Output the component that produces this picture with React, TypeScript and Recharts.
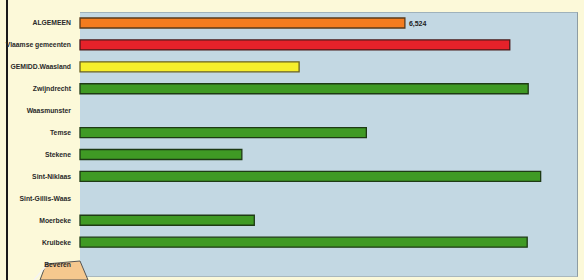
import { BarChart, Bar, XAxis, YAxis, Cell, LabelList } from 'recharts';

// categories, top to bottom
const CATEGORIES = [
  'ALGEMEEN',
  'Vlaamse gemeenten',
  'GEMIDD.Waasland',
  'Zwijndrecht',
  'Waasmunster',
  'Temse',
  'Stekene',
  'Sint-Niklaas',
  'Sint-Gillis-Waas',
  'Moerbeke',
  'Kruibeke',
  'Beveren',
];

// null = no bar drawn
const VALUES: (number | null)[] = [6.524, 8.63, 4.4, 9.0, null, 5.75, 3.25, 9.25, null, 3.5, 8.98, null];

const FILLS = [
  '#f47c1e', '#e5222a', '#f6ee2c',
  '#3f9a24', '#3f9a24', '#3f9a24', '#3f9a24', '#3f9a24',
  '#3f9a24', '#3f9a24', '#3f9a24', '#3f9a24',
];
const STROKES = [
  '#5a3a1a', '#4a1a1a', '#6a6020',
  '#1e3a14', '#1e3a14', '#1e3a14', '#1e3a14', '#1e3a14',
  '#1e3a14', '#1e3a14', '#1e3a14', '#1e3a14',
];

const data = CATEGORIES.map((c, i) => ({ name: c, value: VALUES[i] }));

const FONT = 'Liberation Sans, Arial, sans-serif';

// plain one-line tick, no wrapping
function Tick(props: any) {
  const { x, y, payload } = props;
  return (
    <text x={x} y={y + 2.5} textAnchor="end" fontSize={6.8} fontWeight={700} fill="#2a2a2a" fontFamily={FONT}>
      {payload.value}
    </text>
  );
}

export default function App() {
  return (
    <div style={{ position: 'fixed', left: 0, top: 0, width: 584, height: 280, background: '#fcf9d9', overflow: 'hidden' }}>
      {/* left frame line */}
      <div style={{ position: 'absolute', left: 6, top: 0, width: 2, height: 280, background: '#1a1a1a' }} />
      {/* plot background */}
      <div style={{ position: 'absolute', left: 80, top: 12, width: 497, height: 263, background: '#c3d8e3', borderTop: '1px solid #9fb2bb', borderRight: '1px solid #8d9ca3', borderBottom: '1px solid #a9b8be' }} />
      {/* callout shape bottom-left */}
      <svg style={{ position: 'absolute', left: 0, top: 0 }} width={584} height={280}>
        <polygon points="46,264 80,261 88,280 40,280" fill="#f6c88e" stroke="#555" strokeWidth={1} />
        <line x1={46} y1={266} x2={34} y2={280} stroke="#f4f4f4" strokeWidth={1.5} />
      </svg>
      <div style={{ position: 'absolute', left: 0, top: 0 }}>
        <BarChart
          width={584}
          height={280}
          data={data}
          layout="vertical"
          margin={{ top: 12, right: 6, bottom: 5, left: 0 }}
          barSize={10}
        >
          <XAxis type="number" domain={[0, 10]} hide />
          <YAxis
            type="category"
            dataKey="name"
            width={80}
            tick={<Tick />}
            tickLine={false}
            axisLine={false}
            tickMargin={3}
            interval={0}
          />
          <Bar dataKey="value" isAnimationActive={false} strokeWidth={1.3}>
            {data.map((_, i) => (
              <Cell key={i} fill={FILLS[i]} stroke={STROKES[i]} />
            ))}
            <LabelList
              dataKey="value"
              position="right"
              content={(p: any) =>
                p.index === 0 ? (
                  <text x={p.x + p.width + 4} y={p.y + p.height / 2 + 2.5} fontSize={7} fontWeight={700} fill="#222" fontFamily={FONT}>
                    {String(p.value).replace('.', ',')}
                  </text>
                ) : null
              }
            />
          </Bar>
        </BarChart>
      </div>
    </div>
  );
}
